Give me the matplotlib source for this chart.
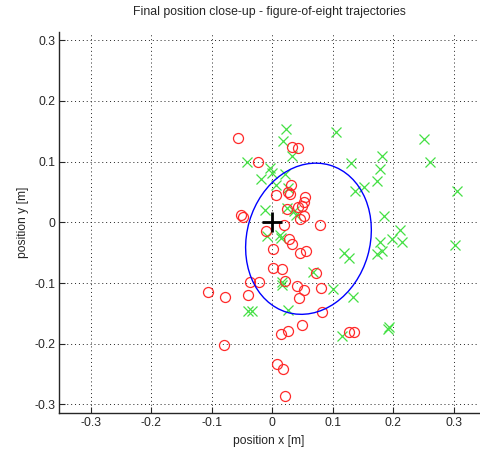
import numpy as np
import matplotlib
matplotlib.use("Agg")
import matplotlib.pyplot as plt
from matplotlib.patches import Ellipse

plt.rcParams['font.family'] = ['Liberation Sans', 'DejaVu Sans']

title = "Final position close-up - figure-of-eight trajectories"
xlabel = "position x [m]"
ylabel = "position y [m]"
ticks = [-0.3, -0.2, -0.1, 0, 0.1, 0.2, 0.3]
tick_labels = ["-0.3", "-0.2", "-0.1", "0", "0.1", "0.2", "0.3"]

red_x = [-0.056, -0.023, 0.033, 0.042, 0.031, 0.026, 0.029, 0.006, 0.054, 0.053,
         0.049, 0.042, 0.024, 0.053, 0.046, -0.051, -0.049, 0.020, 0.079, -0.010,
         0.028, 0.032, 0.001, 0.046, 0.056, 0.001, 0.016, 0.073, -0.036, -0.022,
         0.021, 0.041, 0.052, 0.045, 0.081, -0.106, -0.078, -0.040, 0.083, 0.049,
         0.026, 0.014, 0.127, 0.135, -0.079, 0.008, 0.018, 0.021]
red_y = [0.139, 0.099, 0.124, 0.123, 0.062, 0.050, 0.047, 0.045, 0.042, 0.034,
         0.027, 0.025, 0.022, 0.011, 0.005, 0.012, 0.008, -0.005, -0.005, -0.014,
         -0.027, -0.036, -0.044, -0.051, -0.047, -0.076, -0.077, -0.084, -0.099, -0.099,
         -0.097, -0.105, -0.112, -0.124, -0.108, -0.115, -0.123, -0.120, -0.147, -0.169,
         -0.179, -0.184, -0.181, -0.181, -0.202, -0.233, -0.242, -0.286]

green_x = [0.023, 0.018, 0.032, 0.105, -0.041, -0.003, 0.000, 0.021, -0.019, 0.006,
           0.131, 0.137, 0.026, -0.012, 0.024, 0.036, 0.040, -0.008, 0.013, 0.014,
           0.118, 0.127, 0.067, 0.017, 0.016, 0.101, 0.134, -0.040, -0.034, 0.026,
           0.115, 0.251, 0.182, 0.261, 0.178, 0.174, 0.152, 0.306, 0.185, 0.211,
           0.198, 0.214, 0.178, 0.302, 0.181, 0.173, 0.193, 0.191]
green_y = [0.153, 0.134, 0.109, 0.148, 0.100, 0.089, 0.082, 0.080, 0.071, 0.062,
           0.097, 0.052, 0.056, 0.020, 0.023, 0.018, 0.012, -0.022, -0.021, -0.026,
           -0.051, -0.058, -0.081, -0.098, -0.103, -0.110, -0.123, -0.146, -0.146, -0.145,
           -0.187, 0.138, 0.109, 0.100, 0.088, 0.068, 0.058, 0.052, 0.011, -0.013,
           -0.028, -0.033, -0.033, -0.038, -0.047, -0.052, -0.173, -0.175]

ellipse_center = (0.060, -0.027)
ellipse_cov = np.array([[0.0108, 0.0015], [0.0015, 0.0155]])
target = (0.0, 0.0)

fig = plt.figure(figsize=(4.80, 4.49), dpi=100)
ax = fig.add_axes([0.1235, 0.0802, 0.8745, 0.8485])

ax.plot(green_x, green_y, linestyle='none', marker='x', color='#44e044',
        markersize=7, markeredgewidth=0.9, zorder=3)
ax.plot(red_x, red_y, linestyle='none', marker='o', markerfacecolor='none',
        markeredgecolor='#ff2a2a', markersize=7.2, markeredgewidth=0.9, zorder=4)

vals, vecs = np.linalg.eigh(ellipse_cov)
angle = np.degrees(np.arctan2(vecs[1, 1], vecs[0, 1]))
ell = Ellipse(ellipse_center, width=2 * np.sqrt(vals[1]), height=2 * np.sqrt(vals[0]),
              angle=angle, fill=False, edgecolor='#0000ff', linewidth=1.0, zorder=5)
ax.add_patch(ell)

ax.plot([target[0]], [target[1]], marker='+', color='black', markersize=14,
        markeredgewidth=2, linestyle='none', zorder=6)

ax.set_xlim(-0.352, 0.342)
ax.set_ylim(-0.314, 0.3135)
ax.set_xticks(ticks)
ax.set_xticklabels(tick_labels)
ax.set_yticks(ticks)
ax.set_yticklabels(tick_labels)
ax.grid(True, linestyle=(0, (1, 3)), color='#222222', linewidth=0.7)
ax.set_axisbelow(True)

for s in ['top', 'right']:
    ax.spines[s].set_visible(False)
for s in ['left', 'bottom']:
    ax.spines[s].set_linewidth(1.0)
    ax.spines[s].set_color('#262626')

ax.tick_params(direction='in', length=4, width=0.8, labelsize=8.7,
               colors='#262626', pad=3)
ax.set_title(title, fontsize=8.8, color='#262626', pad=12)
ax.set_xlabel(xlabel, fontsize=8.7, color='#262626', labelpad=4)
ax.set_ylabel(ylabel, fontsize=8.7, color='#262626', labelpad=4)

fig.savefig("out.png", dpi=100)
